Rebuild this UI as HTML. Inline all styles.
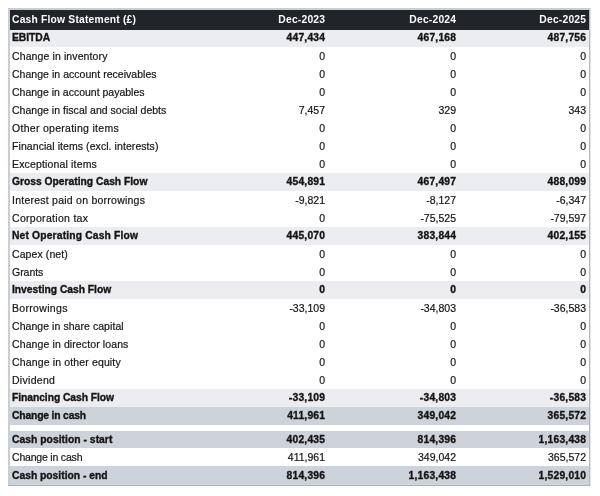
<!DOCTYPE html>
<html><head><meta charset="utf-8"><style>
html,body{margin:0;padding:0;background:#fff;}
body{width:600px;height:496px;overflow:hidden;position:relative;will-change:transform;font-family:"Liberation Sans",sans-serif;}
.frame{position:absolute;left:8px;top:8px;width:579px;height:476px;border-left:2px solid #c9ced6;border-top:2px solid #c9ced6;border-right:1px solid #b3b8be;box-shadow:1px 0 0 #e3e6ea;}
.bot{position:absolute;left:8px;top:485px;width:582px;height:1px;background:#aeb2b7;}
.b{position:absolute;left:10px;width:579px;}
.t{position:absolute;left:0;width:600px;height:0;font-size:10.5px;color:#151515;white-space:nowrap;-webkit-text-stroke-width:0.2px;}
.t span{position:absolute;bottom:0;line-height:0;display:block;}
.t.bold{font-weight:bold;font-size:10.3px;-webkit-text-stroke-width:0.35px;}
.l{left:12px;}
.n{text-align:right;}
.n1{right:275px;}
.n2{right:144px;}
.n3{right:14px;}
.bold .n{letter-spacing:0.2px;margin-right:-0.2px;}
</style></head><body>
<div class="frame"></div>
<div class="b" style="top:10px;height:20px;background:#212429"></div>
<div class="t bold" style="top:20px;color:#fff;-webkit-text-stroke-width:0;"><span class="l" style="letter-spacing:0.200px">Cash Flow Statement (&pound;)</span><span class="n n1">Dec-2023</span><span class="n n2">Dec-2024</span><span class="n n3">Dec-2025</span></div>
<div class="b" style="top:30px;height:17px;background:#ecedf1"></div>
<div class="t bold" style="top:38px;"><span class="l" style="letter-spacing:-0.040px">EBITDA</span><span class="n n1">447,434</span><span class="n n2">467,168</span><span class="n n3">487,756</span></div>
<div class="t" style="top:56px;"><span class="l" style="letter-spacing:0.111px">Change in inventory</span><span class="n n1">0</span><span class="n n2">0</span><span class="n n3">0</span></div>
<div class="t" style="top:74px;"><span class="l" style="letter-spacing:0.036px">Change in account receivables</span><span class="n n1">0</span><span class="n n2">0</span><span class="n n3">0</span></div>
<div class="t" style="top:92px;"><span class="l" style="letter-spacing:0.000px">Change in account payables</span><span class="n n1">0</span><span class="n n2">0</span><span class="n n3">0</span></div>
<div class="t" style="top:110px;"><span class="l" style="letter-spacing:0.025px">Change in fiscal and social debts</span><span class="n n1">7,457</span><span class="n n2">329</span><span class="n n3">343</span></div>
<div class="t" style="top:128px;"><span class="l" style="letter-spacing:0.285px">Other operating items</span><span class="n n1">0</span><span class="n n2">0</span><span class="n n3">0</span></div>
<div class="t" style="top:146px;"><span class="l" style="letter-spacing:0.072px">Financial items (excl. interests)</span><span class="n n1">0</span><span class="n n2">0</span><span class="n n3">0</span></div>
<div class="t" style="top:164px;"><span class="l" style="letter-spacing:0.156px">Exceptional items</span><span class="n n1">0</span><span class="n n2">0</span><span class="n n3">0</span></div>
<div class="b" style="top:173px;height:18px;background:#ecedf1"></div>
<div class="t bold" style="top:182px;"><span class="l" style="letter-spacing:-0.008px">Gross Operating Cash Flow</span><span class="n n1">454,891</span><span class="n n2">467,497</span><span class="n n3">488,099</span></div>
<div class="t" style="top:200px;"><span class="l" style="letter-spacing:0.242px">Interest paid on borrowings</span><span class="n n1">-9,821</span><span class="n n2">-8,127</span><span class="n n3">-6,347</span></div>
<div class="t" style="top:218px;"><span class="l" style="letter-spacing:0.300px">Corporation tax</span><span class="n n1">0</span><span class="n n2">-75,525</span><span class="n n3">-79,597</span></div>
<div class="b" style="top:227px;height:18px;background:#ecedf1"></div>
<div class="t bold" style="top:236px;"><span class="l" style="letter-spacing:0.159px">Net Operating Cash Flow</span><span class="n n1">445,070</span><span class="n n2">383,844</span><span class="n n3">402,155</span></div>
<div class="t" style="top:254px;"><span class="l" style="letter-spacing:0.090px">Capex (net)</span><span class="n n1">0</span><span class="n n2">0</span><span class="n n3">0</span></div>
<div class="t" style="top:272px;"><span class="l" style="letter-spacing:-0.040px">Grants</span><span class="n n1">0</span><span class="n n2">0</span><span class="n n3">0</span></div>
<div class="b" style="top:281px;height:18px;background:#ecedf1"></div>
<div class="t bold" style="top:290px;"><span class="l" style="letter-spacing:-0.017px">Investing Cash Flow</span><span class="n n1">0</span><span class="n n2">0</span><span class="n n3">0</span></div>
<div class="t" style="top:308px;"><span class="l" style="letter-spacing:0.322px">Borrowings</span><span class="n n1">-33,109</span><span class="n n2">-34,803</span><span class="n n3">-36,583</span></div>
<div class="t" style="top:326px;"><span class="l" style="letter-spacing:0.059px">Change in share capital</span><span class="n n1">0</span><span class="n n2">0</span><span class="n n3">0</span></div>
<div class="t" style="top:344px;"><span class="l" style="letter-spacing:0.109px">Change in director loans</span><span class="n n1">0</span><span class="n n2">0</span><span class="n n3">0</span></div>
<div class="t" style="top:362px;"><span class="l" style="letter-spacing:0.143px">Change in other equity</span><span class="n n1">0</span><span class="n n2">0</span><span class="n n3">0</span></div>
<div class="t" style="top:380px;"><span class="l" style="letter-spacing:0.286px">Dividend</span><span class="n n1">0</span><span class="n n2">0</span><span class="n n3">0</span></div>
<div class="b" style="top:389px;height:18px;background:#ecedf1"></div>
<div class="t bold" style="top:398px;"><span class="l" style="letter-spacing:-0.056px">Financing Cash Flow</span><span class="n n1">-33,109</span><span class="n n2">-34,803</span><span class="n n3">-36,583</span></div>
<div class="b" style="top:407px;height:18px;background:#cdd3da"></div>
<div class="t bold" style="top:416px;"><span class="l" style="letter-spacing:-0.154px">Change in cash</span><span class="n n1">411,961</span><span class="n n2">349,042</span><span class="n n3">365,572</span></div>
<div class="b" style="top:431px;height:17px;background:#cdd3da"></div>
<div class="t bold" style="top:440px;"><span class="l" style="letter-spacing:0.040px">Cash position - start</span><span class="n n1">402,435</span><span class="n n2">814,396</span><span class="n n3">1,163,438</span></div>
<div class="t" style="top:457px;"><span class="l" style="letter-spacing:-0.192px">Change in cash</span><span class="n n1">411,961</span><span class="n n2">349,042</span><span class="n n3">365,572</span></div>
<div class="b" style="top:466px;height:19px;background:#cdd3da"></div>
<div class="t bold" style="top:476px;"><span class="l" style="letter-spacing:0.000px">Cash position - end</span><span class="n n1">814,396</span><span class="n n2">1,163,438</span><span class="n n3">1,529,010</span></div>
<div class="bot"></div>
</body></html>
